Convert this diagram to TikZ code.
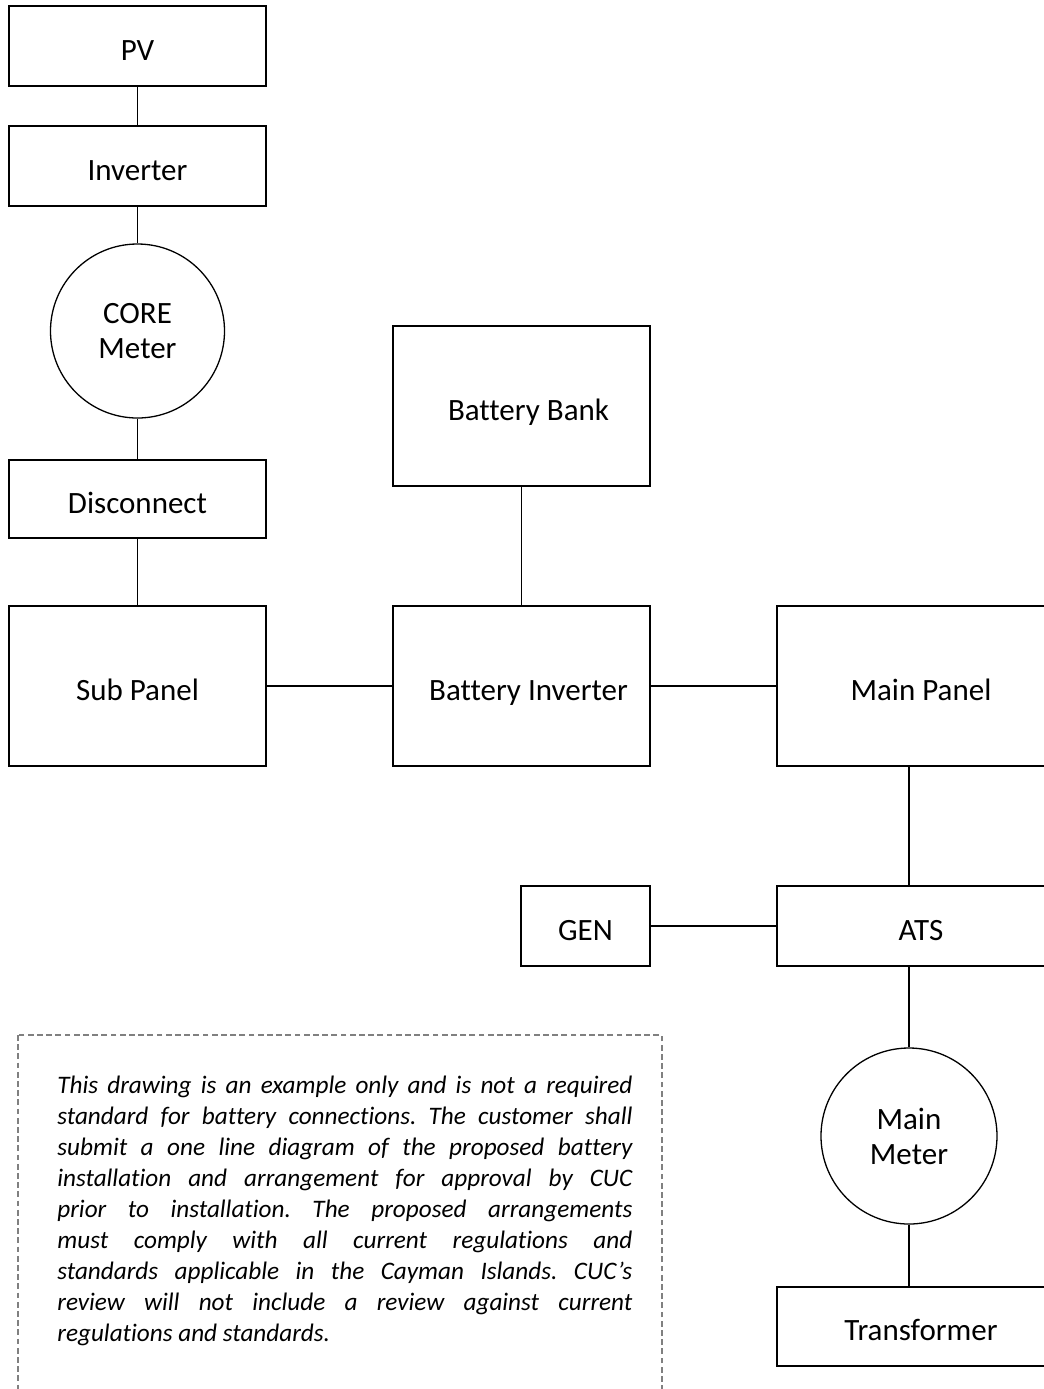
\documentclass[tikz,border=0pt]{standalone}
\usepackage{fontspec}
\setmainfont[Ligatures=NoCommon]{Carlito}
\begin{document}
\begin{tikzpicture}[x=0.5pt,y=-0.5pt,
  box/.style={draw, line width=0.85pt, inner sep=0pt, align=center,
    text height=17pt, text depth=3pt,
    font=\fontsize{15.5}{17.5}\selectfont},
  meter/.style={draw, circle, line width=0.65pt, inner sep=0pt, align=center,
    font=\fontsize{15.5}{17.5}\selectfont},
  wire/.style={line width=0.85pt},
  dashbox/.style={draw=black!50, line width=0.6pt, dash pattern=on 2.9pt off 1.7pt},
  note/.style={inner sep=0pt, anchor=north west, text width=287.5pt, align=justify,
    font=\fontsize{12.6}{15.5}\selectfont\itshape}]
\useasboundingbox (0,0) rectangle (1044,1389);
\clip (0,0) rectangle (1044,1389);
% left column
\node[box, minimum width=128.5pt, minimum height=40pt] (pv) at (137.5,46) {PV};
\node[box, minimum width=128.5pt, minimum height=40pt] (inv) at (137.5,166) {Inverter};
\node[meter, minimum size=87pt] (core) at (137.5,331) {CORE\\Meter};
\node[box, minimum width=128.5pt, minimum height=39pt] (disc) at (137.5,499) {Disconnect};
\node[box, minimum width=128.5pt, minimum height=80pt] (sub) at (137.5,686) {Sub Panel};
% middle column
\node[box, minimum width=128.5pt, minimum height=80pt] (bb) at (521.5,406) {\hspace*{7pt}Battery Bank};
\node[box, minimum width=128.5pt, minimum height=80pt] (binv) at (521.5,686) {\hspace*{7pt}Battery Inverter};
\node[box, minimum width=64.5pt, minimum height=40pt] (gen) at (585.5,926) {GEN};
% right column
\node[box, minimum width=144pt, minimum height=80pt] (mp) at (921,686) {Main Panel};
\node[box, minimum width=144pt, minimum height=40pt] (ats) at (921,926) {ATS};
\node[meter, minimum size=88pt] (mm) at (909,1136) {Main\\Meter};
\node[box, minimum width=144pt, minimum height=39.5pt] (tr) at (921,1326.5) {Transformer};
% connectors
\draw[wire] (pv.south) -- (inv.north);
\draw[wire] (inv.south) -- (core.north);
\draw[wire] (core.south) -- (disc.north);
\draw[wire] (disc.south) -- (sub.north);
\draw[wire] (bb.south) -- (binv.north);
\draw[wire] (sub.east) -- (binv.west);
\draw[wire] (binv.east) -- (mp.west);
\draw[wire] (mp.south -| mm.north) -- (ats.north -| mm.north);
\draw[wire] (gen.east) -- (ats.west);
\draw[wire] (ats.south -| mm.north) -- (mm.north);
\draw[wire] (mm.south) -- (tr.north -| mm.south);
% note
\draw[dashbox] (18,1035) rectangle (662,1420);
\node[note] (txt) at (57,1076) {\frenchspacing\rightskip=0pt\spaceskip=0pt\xspaceskip=0pt
\tolerance=10000\hbadness=10000\hyphenpenalty=10000\emergencystretch=0pt%
This drawing is an example only and is not a required\linebreak
standard for battery connections. The customer shall\linebreak
submit a one line diagram of the proposed battery\linebreak
installation and arrangement for approval by CUC\linebreak
prior to installation. The proposed arrangements\linebreak
must comply with all current regulations and\linebreak
standards applicable in the Cayman Islands. CUC’s\linebreak
review will not include a review against current\linebreak
regulations and standards.};
\end{tikzpicture}
\end{document}
